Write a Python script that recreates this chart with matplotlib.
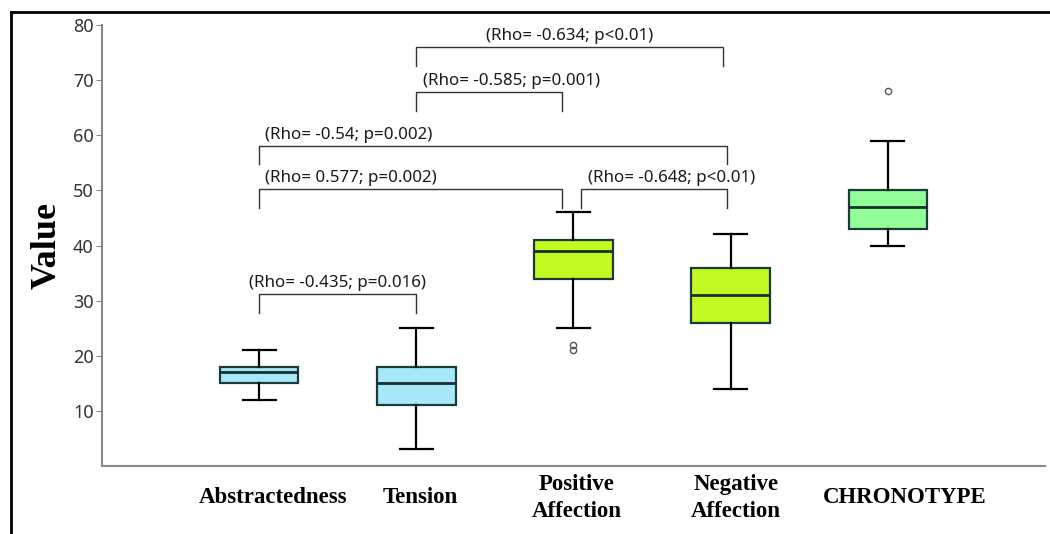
import matplotlib.pyplot as plt
from matplotlib.lines import Line2D
from matplotlib.transforms import ScaledTranslation

categories = ["Abstractedness", "Tension", "Positive\nAffection", "Negative\nAffection", "CHRONOTYPE"]
medians = [17, 15, 39, 31, 47]
q1 = [15, 11, 34, 26, 43]
q3 = [18, 18, 41, 36, 50]
whisker_low = [12, 3, 25, 14, 40]
whisker_high = [21, 25, 46, 42, 59]
outliers = [[], [], [21, 22], [], [68]]
box_colors = ["#a6e7f8", "#a6e7f8", "#c2f922", "#c2f922", "#91fe98"]

# correlation brackets
bracket_labels = ["(Rho= -0.435; p=0.016)", "(Rho= -0.634; p<0.01)", "(Rho= -0.585; p=0.001)",
                  "(Rho= -0.54; p=0.002)", "(Rho= 0.577; p=0.002)", "(Rho= -0.648; p<0.01)"]
bracket_x = [(1.0, 2.0), (2.0, 3.95), (2.0, 2.93), (1.0, 3.98), (1.0, 2.93), (3.05, 3.98)]
bracket_top = [31.2, 76.0, 67.8, 58.1, 50.2, 50.2]
bracket_align = ["center", "center", "left", "left", "left", "left"]

fig = plt.figure(figsize=(10.5, 5.34), dpi=100)
ax = fig.add_axes([0.0971, 0.1273, 0.8981, 0.8259])

stats = []
for i in range(len(categories)):
    stats.append({"med": medians[i], "q1": q1[i], "q3": q3[i],
                  "whislo": whisker_low[i], "whishi": whisker_high[i],
                  "fliers": outliers[i], "label": categories[i]})

bp = ax.bxp(stats, positions=range(1, 6), widths=0.5, patch_artist=True, capwidths=0.21,
            boxprops=dict(edgecolor="#1b3b3b", linewidth=1.6),
            medianprops=dict(color="#163030", linewidth=2),
            whiskerprops=dict(color="black", linewidth=1.6),
            capprops=dict(color="black", linewidth=1.6),
            flierprops=dict(marker="o", markersize=4.5, markerfacecolor="none",
                            markeredgecolor="#555555", markeredgewidth=1))
for patch, c in zip(bp["boxes"], box_colors):
    patch.set_facecolor(c)

drop = 3.4
for lab, (x1, x2), top, al in zip(bracket_labels, bracket_x, bracket_top, bracket_align):
    ax.plot([x1, x1, x2, x2], [top - drop, top, top, top - drop], color="#333333", lw=1)
    if al == "center":
        tx = (x1 + x2) / 2
    else:
        tx = x1 + 0.04
    ax.text(tx, top + 2.0, lab, ha=al, va="center", fontsize=12.2,
            family="Noto Sans", color="#1a1a1a")

ax.set_xlim(0, 6)
ax.set_ylim(0, 80)
ax.set_yticks(range(10, 90, 10))
for s in ["top", "right"]:
    ax.spines[s].set_visible(False)
for s in ["left", "bottom"]:
    ax.spines[s].set_color("#8a8a8a")
    ax.spines[s].set_linewidth(1.5)
ax.tick_params(axis="y", length=4, pad=2, color="#8a8a8a", labelsize=13, labelcolor="#333333")
for t in ax.get_yticklabels():
    t.set_family("Noto Sans")
ax.tick_params(axis="x", length=0, pad=23)
ax.set_xticklabels(categories, family="Liberation Serif", fontweight="bold", fontsize=16.5,
                   va="center", linespacing=1.4)
nudges = [14, 4, 3, 5, 17]
for t, dx in zip(ax.get_xticklabels(), nudges):
    t.set_transform(t.get_transform() + ScaledTranslation(dx / 100, 0, fig.dpi_scale_trans))
ax.set_ylabel("Value", family="Liberation Serif", fontweight="bold", fontsize=26, labelpad=7)

# black frame on the left and top
fig.add_artist(Line2D([0.0105, 0.0105], [0, 0.9775], color="black", lw=2))
fig.add_artist(Line2D([0.0105, 1], [0.9775, 0.9775], color="black", lw=2))

fig.savefig("out.png", dpi=100)
